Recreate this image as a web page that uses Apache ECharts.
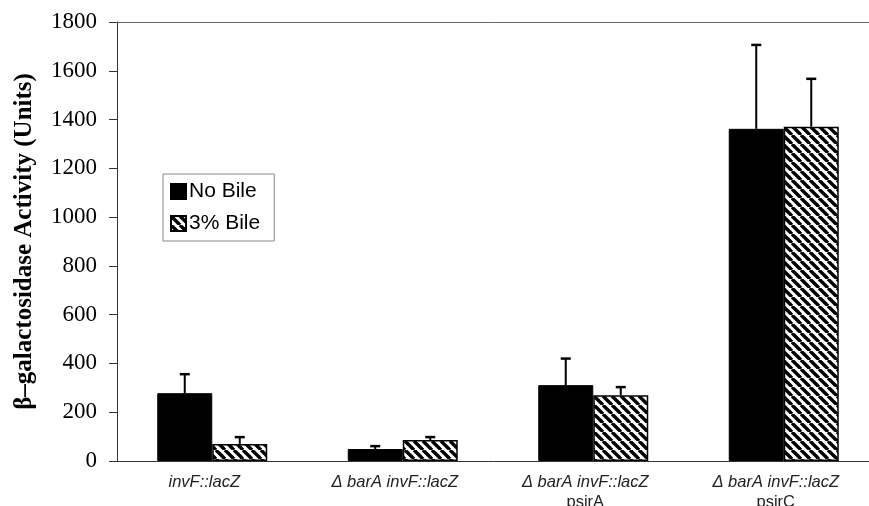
<!DOCTYPE html>
<html lang="en">
<head>
    <meta charset="UTF-8">
    <title>beta-galactosidase</title>
    <script src="https://cdn.jsdelivr.net/npm/echarts@6/dist/echarts.min.js"></script>
    <style>
        body { margin: 0; background: #fff; }
        #chart { width: 869px; height: 506px; }
    </style>
</head>
<body>
    <div id="chart"></div>
    <script>
        // data
        var strains = ['invF::lacZ', 'Δ barA invF::lacZ', 'Δ barA invF::lacZ\npsirA', 'Δ barA invF::lacZ\npsirC'];
        var noBile = [278, 49, 311, 1362];
        var noBileErr = [78, 12, 109, 344];
        var bile = [70, 86, 270, 1371];
        var bileErr = [28, 12, 33, 196];
        var yTicks = [0, 200, 400, 600, 800, 1000, 1200, 1400, 1600, 1800];

        // diagonal hatch
        var hatch = document.createElement('canvas');
        hatch.width = 9; hatch.height = 9;
        var ctx = hatch.getContext('2d');
        ctx.fillStyle = '#fff';
        ctx.fillRect(0, 0, 9, 9);
        ctx.strokeStyle = '#000';
        ctx.lineWidth = 3.4;
        [-9, 0, 9].forEach(function (o) {
            ctx.beginPath();
            ctx.moveTo(o, 0);
            ctx.lineTo(o + 9, 9);
            ctx.stroke();
        });

        var barW = 55;

        function errItem(vals, errs, dx) {
            return function (params, api) {
                var i = api.value(0);
                var base = api.coord([i, vals[i]]);
                var top = api.coord([i, vals[i] + errs[i]]);
                var x = base[0] + dx;
                return {
                    type: 'group',
                    children: [
                        { type: 'line', shape: { x1: x, y1: base[1], x2: x, y2: top[1] }, style: { stroke: '#000', lineWidth: 2 } },
                        { type: 'line', shape: { x1: x - 5, y1: top[1], x2: x + 5, y2: top[1] }, style: { stroke: '#000', lineWidth: 2.5 } }
                    ]
                };
            };
        }

        var chart = echarts.init(document.getElementById('chart'));
        chart.setOption({
            animation: false,
            grid: { left: 117, top: 22, width: 762, height: 439, containLabel: false, outerBoundsMode: 'none' },
            legend: {
                left: 163, top: 174, orient: 'vertical', icon: 'rect',
                itemWidth: 15, itemHeight: 15, itemGap: 11,
                padding: [7, 14, 7, 7],
                borderColor: '#888', borderWidth: 1,
                textStyle: { fontFamily: 'Liberation Sans', fontSize: 21, color: '#000', padding: [0, 0, 0, -2] },
                data: ['No Bile', '3% Bile']
            },
            xAxis: [{
                type: 'category', data: strains,
                axisLine: { lineStyle: { color: '#333', width: 1 } },
                axisTick: { show: false },
                axisLabel: {
                    interval: 0, margin: 11, padding: [0, 16, 0, 0],
                    formatter: function (v) {
                        var p = v.split('\n');
                        return '{i|' + p[0] + '}' + (p[1] ? '\n{n|' + p[1] + '}' : '');
                    },
                    rich: {
                        i: { fontFamily: 'Liberation Sans', fontStyle: 'italic', fontSize: 16.5, color: '#222', lineHeight: 20 },
                        n: { fontFamily: 'Liberation Sans', fontSize: 16.5, color: '#222', lineHeight: 20 }
                    }
                }
            }, {
                type: 'category', position: 'top', data: strains,
                axisLine: { lineStyle: { color: '#666', width: 1 } },
                axisTick: { show: false }, axisLabel: { show: false }
            }],
            yAxis: {
                type: 'value', min: yTicks[0], max: yTicks[yTicks.length - 1], interval: 200,
                name: 'β–galactosidase Activity (Units)',
                nameLocation: 'middle', nameGap: 72, nameRotate: 90,
                nameTextStyle: { fontFamily: 'Liberation Serif', fontWeight: 'bold', fontSize: 25, color: '#000', padding: [0, 0, 8, 0] },
                axisLine: { show: true, lineStyle: { color: '#333' } },
                axisTick: { show: true, length: 8, lineStyle: { color: '#333' } },
                splitLine: { show: false },
                axisLabel: {
                    fontFamily: 'Liberation Serif', fontSize: 23, color: '#000', margin: 20,
                    formatter: function (v) { return String(v); }
                }
            },
            series: [{
                name: 'No Bile', type: 'bar', data: noBile, barWidth: barW, barGap: 0,
                itemStyle: { color: '#000', borderColor: '#000', borderWidth: 1 }
            }, {
                name: '3% Bile', type: 'bar', data: bile, barWidth: barW,
                itemStyle: { color: { image: hatch, repeat: 'repeat' }, borderColor: '#000', borderWidth: 1.5 }
            }, {
                type: 'custom', renderItem: errItem(noBile, noBileErr, -barW / 2),
                data: noBile.map(function (v, i) { return [i, v + noBileErr[i]]; }), z: 5
            }, {
                type: 'custom', renderItem: errItem(bile, bileErr, barW / 2),
                data: bile.map(function (v, i) { return [i, v + bileErr[i]]; }), z: 5
            }]
        });
    </script>
</body>
</html>
